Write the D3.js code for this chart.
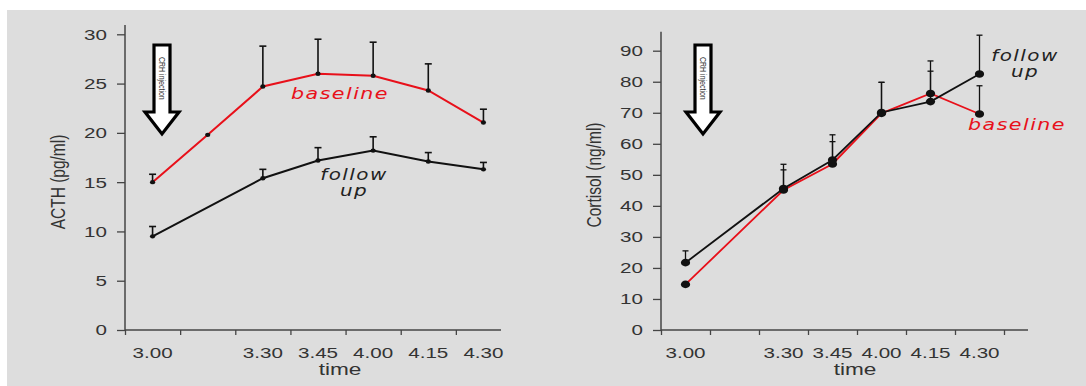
<!DOCTYPE html>
<html>
<head>
<meta charset="utf-8">
<script src="https://cdn.jsdelivr.net/npm/d3@7"></script>
<style>
    body { margin: 0; background: #fff; }
    svg { display: block; }
</style>
</head>
<body>
<svg id="chart" width="1086" height="386"></svg>
<script>
// sampling times after CRH injection
const times = ["3.00", "3.15", "3.30", "3.45", "4.00", "4.15", "4.30"];
const timeLabels = ["3.00", "", "3.30", "3.45", "4.00", "4.15", "4.30"];

// ACTH (pg/ml): means and upper error (SEM)
const acthBaseline = [15.0, 19.8, 24.7, 26.0, 25.8, 24.3, 21.05];
const acthBaselineErr = [0.8, 0, 4.1, 3.5, 3.4, 2.7, 1.35];
const acthFollowUp = [9.5, null, 15.4, 17.2, 18.2, 17.1, 16.3];
const acthFollowUpErr = [1.0, 0, 0.9, 1.3, 1.4, 0.9, 0.7];
const acthTicks = [0, 5, 10, 15, 20, 25, 30];

// Cortisol (ng/ml)
const cortisolBaseline = [14.7, null, 45.1, 53.5, 69.8, 76.2, 69.6];
const cortisolBaselineErr = [0, 0, 6.5, 7.2, 10.0, 10.5, 9.1];
const cortisolFollowUp = [21.7, null, 45.6, 54.8, 70.1, 73.6, 82.5];
const cortisolFollowUpErr = [3.8, 0, 7.8, 8.1, 9.7, 9.8, 12.5];
const cortisolTicks = [0, 10, 20, 30, 40, 50, 60, 70, 80, 90];

const RED = "#e8101a";
const INK = "#111";
const SX = 1.33; // the original figure is stretched sideways, text included
const SANS = "'Liberation Sans', Arial, sans-serif";

const svg = d3.select("#chart");

svg.append("rect")
    .attr("x", 7)
    .attr("y", 10)
    .attr("width", 1079)
    .attr("height", 376)
    .attr("fill", "#dddddd");

// text stretched horizontally around its anchor point
function label(x, y, txt, opts = {}) {
    const t = svg.append("text")
        .attr("transform", `translate(${x},${y}) scale(${SX},1)${opts.rotate ? ` rotate(${opts.rotate})` : ""}`)
        .attr("text-anchor", opts.anchor || "middle")
        .attr("fill", opts.fill || "#333")
        .style("font-family", opts.family || SANS)
        .style("font-size", (opts.size || 15) + "px")
        .style("font-style", opts.italic ? "italic" : "normal")
        .style("letter-spacing", opts.spacing ? opts.spacing + "px" : null)
        .text(txt);
    if (opts.dy) t.attr("dy", opts.dy);
    return t;
}

function arrow(cx) {
    svg.append("path")
        .attr("d", `M${cx - 8},45 H${cx + 8} V112 H${cx + 17} L${cx},134 L${cx - 17},112 H${cx - 8} Z`)
        .attr("fill", "#fff")
        .attr("stroke", "#000")
        .attr("stroke-width", 3.2)
        .attr("stroke-linejoin", "miter");
    label(cx - 3.3, 57, "CRH injection", { rotate: 90, anchor: "start", size: 7, fill: "#333" });
}

function drawPanel(p) {
    const x = d3.scaleBand().domain(times).range([p.left, p.right]);
    const y = d3.scaleLinear().domain([0, p.yMax]).range([330, p.yTop]);

    // y axis
    const ya = svg.append("g")
        .attr("transform", `translate(${p.left},0)`)
        .call(d3.axisLeft(y).tickValues(p.ticks).tickSize(8).tickSizeOuter(0));
    ya.select(".domain").remove();
    ya.selectAll("line").attr("stroke", "#444").attr("stroke-width", 1.3);
    ya.selectAll("text")
        .attr("x", -18 / SX)
        .attr("transform", `scale(${SX},1)`)
        .attr("fill", "#333")
        .style("font-family", SANS)
        .style("font-size", "15.5px");

    svg.append("line")
        .attr("x1", p.left).attr("x2", p.left)
        .attr("y1", 330).attr("y2", p.axisTop)
        .attr("stroke", "#444").attr("stroke-width", 1.5);

    // x axis: ticks on the band edges, labels in the bands
    const edges = d3.scaleLinear().domain([0, times.length]).range([p.left, p.right]);
    const xt = svg.append("g")
        .attr("transform", "translate(0,330)")
        .call(d3.axisBottom(edges).tickValues(d3.range(p.nTicks)).tickSize(5).tickFormat(""));
    xt.select(".domain").remove();
    xt.selectAll("line").attr("stroke", "#444").attr("stroke-width", 1.3);

    const xl = svg.append("g")
        .attr("transform", "translate(0,330)")
        .call(d3.axisBottom(x).tickSize(0).tickFormat((d, i) => timeLabels[i]));
    xl.select(".domain").remove();
    xl.selectAll("text")
        .attr("y", 28)
        .attr("dy", null)
        .attr("transform", `scale(${SX},1)`)
        .attr("fill", "#333")
        .style("font-family", SANS)
        .style("font-size", "15.5px");

    svg.append("line")
        .attr("x1", p.left).attr("x2", p.axisEnd)
        .attr("y1", 330).attr("y2", 330)
        .attr("stroke", "#444").attr("stroke-width", 1.5);

    label(p.timeX, 375, "time", { size: 17 });
    label(p.yLabelX, p.yLabelY, p.yLabel, { rotate: -90, size: 15.5, dy: "0.35em" });

    arrow(p.arrowX);

    const series = p.series.map(s => ({
        ...s,
        pts: s.values
            .map((v, i) => ({ t: times[i], v, e: s.err[i] }))
            .filter(d => d.v != null)
    }));

    const cx = d => x(d.t) + x.bandwidth() / 2;
    const line = d3.line().x(cx).y(d => y(d.v));

    series.forEach(s => {
        svg.append("path")
            .datum(s.pts)
            .attr("d", line)
            .attr("fill", "none")
            .attr("stroke", s.color)
            .attr("stroke-width", p.lineWidth);
    });

    series.forEach(s => {
        const bars = svg.append("g").selectAll("g")
            .data(s.pts.filter(d => d.e > 0))
            .join("g");
        bars.append("line")
            .attr("x1", cx).attr("x2", cx)
            .attr("y1", d => y(d.v)).attr("y2", d => y(d.v + d.e))
            .attr("stroke", INK).attr("stroke-width", p.errWidth);
        bars.append("line")
            .attr("x1", d => cx(d) - p.cap).attr("x2", d => cx(d) + p.cap)
            .attr("y1", d => y(d.v + d.e)).attr("y2", d => y(d.v + d.e))
            .attr("stroke", INK).attr("stroke-width", p.errWidth);
    });

    series.forEach(s => {
        svg.append("g").selectAll("ellipse")
            .data(s.pts)
            .join("ellipse")
            .attr("cx", cx)
            .attr("cy", d => y(d.v))
            .attr("rx", p.dot[0])
            .attr("ry", p.dot[1])
            .attr("fill", INK);
    });

    p.notes.forEach(n => label(n.x, n.y, n.text, {
        family: "'DejaVu Sans', Verdana, sans-serif",
        italic: true,
        size: n.size || 15.5,
        spacing: 1.1,
        fill: n.fill
    }));
}

drawPanel({
    left: 125, right: 511, axisEnd: 501, nTicks: 7,
    yMax: 30, yTop: 34.3, axisTop: 25, ticks: acthTicks,
    yLabel: "ACTH (pg/ml)", yLabelX: 58, yLabelY: 182, timeX: 340,
    arrowX: 162,
    lineWidth: 2, errWidth: 1.6, cap: 3.5, dot: [2.6, 2.2],
    series: [
        { values: acthBaseline, err: acthBaselineErr, color: RED },
        { values: acthFollowUp, err: acthFollowUpErr, color: INK }
    ],
    notes: [
        { x: 340, y: 98.5, text: "baseline", fill: RED },
        { x: 354, y: 179.5, text: "follow", fill: "#222", size: 15 },
        { x: 354, y: 195.5, text: "up", fill: "#222", size: 15 }
    ]
});

drawPanel({
    left: 661, right: 1004, axisEnd: 1028, nTicks: 8,
    yMax: 90, yTop: 50.7, axisTop: 31.7, ticks: cortisolTicks,
    yLabel: "Cortisol (ng/ml)", yLabelX: 594, yLabelY: 175, timeX: 855,
    arrowX: 703,
    lineWidth: 1.8, errWidth: 1.3, cap: 3, dot: [4.6, 3.8],
    series: [
        { values: cortisolBaseline, err: cortisolBaselineErr, color: RED },
        { values: cortisolFollowUp, err: cortisolFollowUpErr, color: INK }
    ],
    notes: [
        { x: 1025, y: 61, text: "follow", fill: "#222", size: 15 },
        { x: 1025, y: 77, text: "up", fill: "#222", size: 15 },
        { x: 1017, y: 130, text: "baseline", fill: RED }
    ]
});
</script>
</body>
</html>
